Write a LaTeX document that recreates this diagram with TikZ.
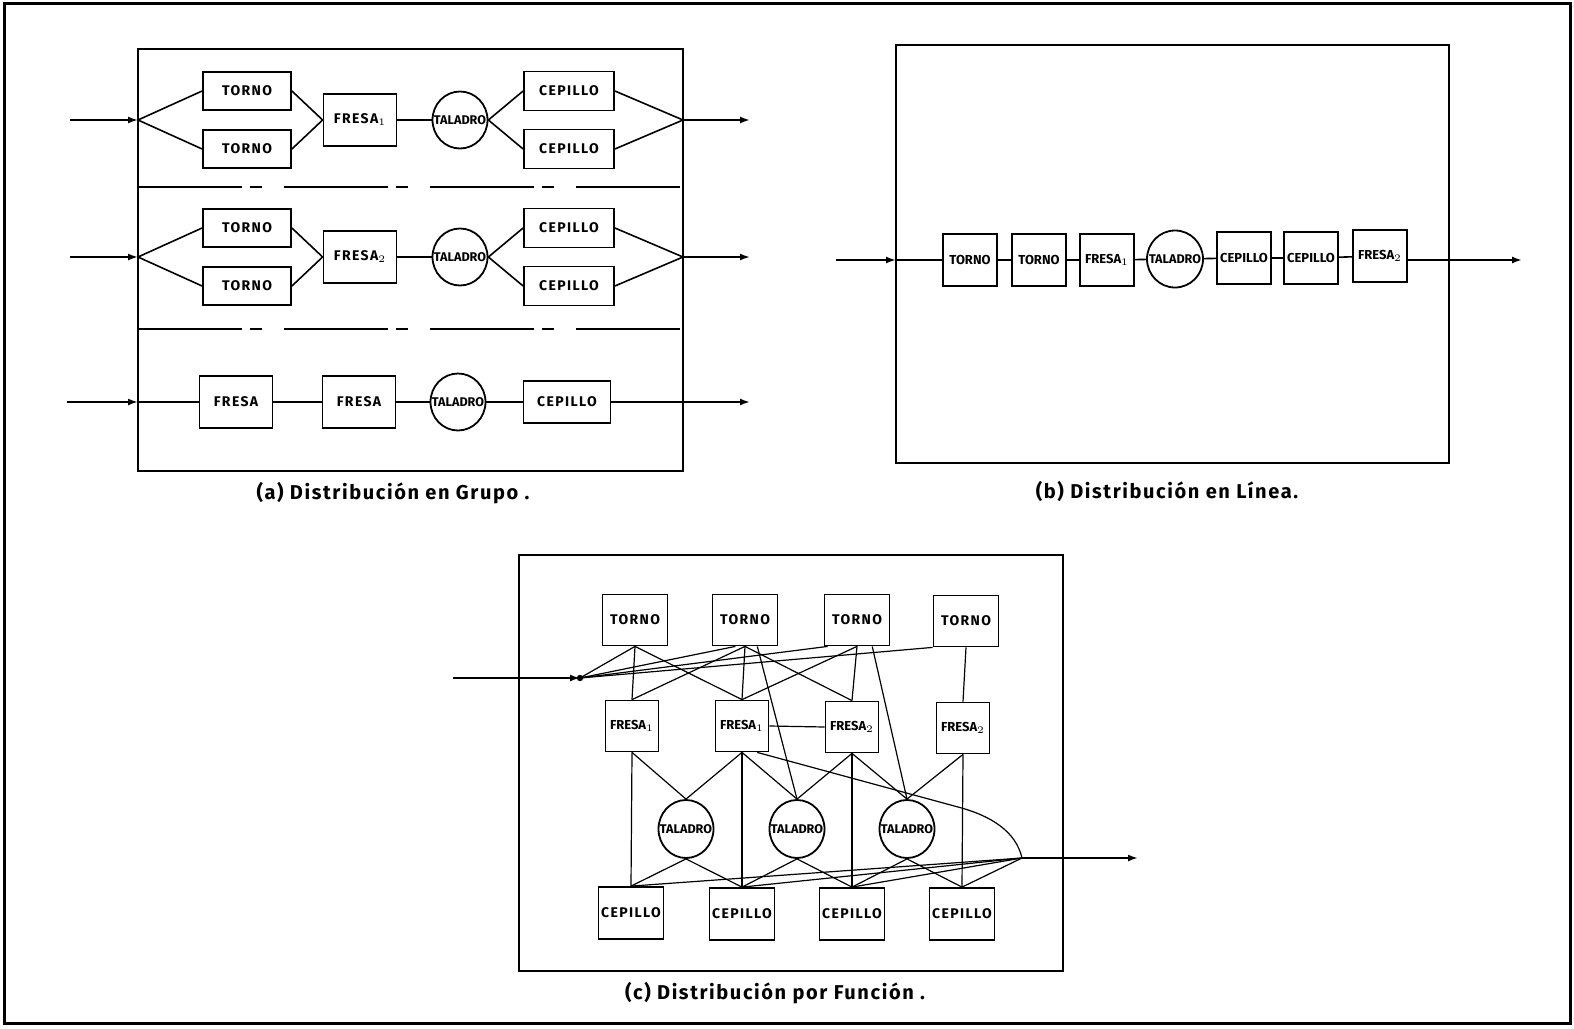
\documentclass[tikz,border=0pt]{standalone}
\usepackage{fontspec}
\setmainfont{Fira Sans}
\newfontfamily\machfont[LetterSpace=10]{Fira Sans}
\newfontfamily\capfont[LetterSpace=8]{Fira Sans}
\newcommand{\drilltext}{\makebox[0pt]{TALADRO}}
\usetikzlibrary{arrows.meta,positioning,calc,shapes.geometric}

\begin{document}
\begin{tikzpicture}[
    x=0.5pt, y=-0.5pt,
    font=\machfont\bfseries\fontsize{7}{8}\selectfont,
    mach/.style={draw, line width=0.9pt, inner sep=0pt, align=center},
    atorno/.style={mach, minimum width=44pt, minimum height=19pt},
    acep/.style={mach, minimum width=45pt, minimum height=19.5pt},
    afresa/.style={mach, minimum width=36.5pt, minimum height=26pt},
    acep3/.style={mach, minimum width=43.5pt, minimum height=21pt},
    bmach/.style={mach, minimum width=27pt, minimum height=26pt, font=\bfseries\fontsize{6.5}{7}\selectfont},
    ctorno/.style={mach, minimum width=32.5pt, minimum height=25.5pt},
    cfresa/.style={mach, minimum width=26.5pt, minimum height=25.5pt, font=\bfseries\fontsize{6.5}{7}\selectfont},
    ccep/.style={mach, minimum width=32.5pt, minimum height=26pt},
    drill/.style={draw, ellipse, line width=0.9pt, inner sep=0pt, minimum width=27.5pt, minimum height=28.5pt, font=\bfseries\fontsize{6.3}{7}\selectfont},
    panel/.style={draw, line width=1.3pt},
    link/.style={line width=0.8pt},
    thin link/.style={line width=0.6pt},
    flow/.style={-{Latex[length=5pt,width=3.5pt]}, line width=0.9pt},
    caption/.style={font=\capfont\bfseries\fontsize{10}{12}\selectfont}
  ]
  \useasboundingbox (0,0) rectangle (1574,1028);
  \draw[line width=1.5pt] (4,3) rectangle (1570,1023);

  % (a) grupo
  \draw[panel] (138,49) rectangle (683,471);
  \draw[panel, dash pattern=on 52pt off 4pt on 6pt off 11pt] (138,187) -- (683,187);
  \draw[panel, dash pattern=on 52pt off 4pt on 6pt off 11pt] (138,329) -- (683,329);
  \foreach \row/\y in {1/120, 2/257} {
    \coordinate (a\row in) at (70,\y);
    \coordinate (a\row j) at (138,\y);
    \coordinate (a\row k) at (683,\y);
    \coordinate (a\row out) at (750,\y);
    \node[atorno] (a\row t1) at (247,\y-29) {TORNO};
    \node[atorno] (a\row t2) at (247,\y+29) {TORNO};
    \node[afresa] (a\row f) at (360,\y) {FRESA$_\row$};
    \node[drill] (a\row d) at (460,\y) {\drilltext};
    \node[acep] (a\row c1) at (569,\y-29) {CEPILLO};
    \node[acep] (a\row c2) at (569,\y+29) {CEPILLO};
    \draw[flow] (a\row in) -- (a\row j);
    \draw[link] (a\row j) -- (a\row t1.west) (a\row j) -- (a\row t2.west);
    \draw[link] (a\row t1.east) -- (a\row f.west) (a\row t2.east) -- (a\row f.west);
    \draw[link] (a\row f) -- (a\row d);
    \draw[link] (a\row d.east) -- (a\row c1.west) (a\row d.east) -- (a\row c2.west);
    \draw[link] (a\row c1.east) -- (a\row k) (a\row c2.east) -- (a\row k);
    \draw[flow] (a\row k) -- (a\row out);
  }
  \coordinate (a3in) at (67,402);
  \coordinate (a3j) at (138,402);
  \coordinate (a3out) at (750,402);
  \node[afresa] (a3f1) at (236,402) {FRESA};
  \node[afresa] (a3f2) at (359,402) {FRESA};
  \node[drill] (a3d) at (458,402) {\drilltext};
  \node[acep3] (a3c) at (567,402) {CEPILLO};
  \draw[flow] (a3in) -- (a3j);
  \draw[link] (a3j) -- (a3f1) -- (a3f2) -- (a3d) -- (a3c);
  \draw[flow] (a3c) -- (a3out);
  \node[caption] (capa) at (393,493) {(a) Distribución en Grupo .};

  % (b) linea
  \draw[panel] (896,45) rectangle (1449,463);
  \coordinate (bin) at (836,260);
  \coordinate (bj) at (896,260);
  \coordinate (bout) at (1522,260);
  \node[bmach] (b1) at (970,260) {TORNO};
  \node[bmach] (b2) at (1039,260) {TORNO};
  \node[bmach] (b3) at (1107,260) {FRESA$_1$};
  \node[drill, minimum width=28pt] (b4) at (1175,259) {\drilltext};
  \node[bmach] (b5) at (1244,258) {CEPILLO};
  \node[bmach] (b6) at (1311,258) {CEPILLO};
  \node[bmach] (b7) at (1380,256) {FRESA$_2$};
  \draw[flow] (bin) -- (bj);
  \draw[link] (bj) -- (b1) -- (b2) -- (b3) -- (b4) -- (b5) -- (b6) -- (b7);
  \draw[flow] (b7.east |- bout) -- (bout);
  \node[caption] (capb) at (1167,491) {(b) Distribución en Línea.};

  % (c) funcion
  \draw[panel] (519,555) rectangle (1063,971);
  \coordinate (cin) at (453,678);
  \coordinate (P) at (580,678);
  \coordinate (Q) at (1022,858);
  \coordinate (cout) at (1138,858);
  \node[ctorno] (ct1) at (635,620) {TORNO};
  \node[ctorno] (ct2) at (745,620) {TORNO};
  \node[ctorno] (ct3) at (857,620) {TORNO};
  \node[ctorno] (ct4) at (966,621) {TORNO};
  \node[cfresa] (cf1) at (632,726) {FRESA$_1$};
  \node[cfresa] (cf2) at (742,726) {FRESA$_1$};
  \node[cfresa] (cf3) at (852,727) {FRESA$_2$};
  \node[cfresa] (cf4) at (963,728) {FRESA$_2$};
  \node[drill, minimum height=29pt] (cd1) at (686,829) {\drilltext};
  \node[drill, minimum height=29pt] (cd2) at (797,829) {\drilltext};
  \node[drill, minimum height=29pt] (cd3) at (907,829) {\drilltext};
  \node[ccep] (cc1) at (631,913) {CEPILLO};
  \node[ccep] (cc2) at (742,914) {CEPILLO};
  \node[ccep] (cc3) at (852,914) {CEPILLO};
  \node[ccep] (cc4) at (962,914) {CEPILLO};
  \draw[flow] (cin) -- (P);
  \fill (P) circle (1.6pt);
  \foreach \t/\a in {ct1/south, ct2/-110, ct3/-138, ct4/south west}
    \draw[thin link] (P) -- (\t.\a);
  \foreach \u/\v in {ct1/cf1, ct1/cf2, ct2/cf1, ct2/cf2, ct2/cf3, ct3/cf2, ct3/cf3, ct4/cf4}
    \draw[thin link] (\u.south) -- (\v.north);
  \draw[thin link] (ct2.-65) -- (cd2.north);
  \draw[thin link] (ct3.-60) -- (cd3.north);
  \draw[thin link] (cf2.east) -- (cf3.west);
  \foreach \u/\v in {cf1/cd1, cf2/cd1, cf2/cd2, cf3/cd2, cf3/cd3, cf4/cd3, cf1/cc1, cf2/cc2, cf3/cc3, cf4/cc4}
    \draw[thin link] (\u.south) -- (\v.north);
  \foreach \u/\v in {cd1/cc1, cd1/cc2, cd2/cc2, cd2/cc3, cd3/cc3, cd3/cc4}
    \draw[thin link] (\u.south) -- (\v.north);
  \foreach \u in {cc1, cc2, cc3, cc4}
    \draw[thin link] (\u.north) -- (Q);
  \draw[thin link] (cf2.-60) -- (958,807) .. controls (992,816) and (1016,832) .. (Q);
  \draw[flow] (Q) -- (cout);
  \node[caption] (capc) at (775,993) {(c) Distribución por Función .};
\end{tikzpicture}
\end{document}
